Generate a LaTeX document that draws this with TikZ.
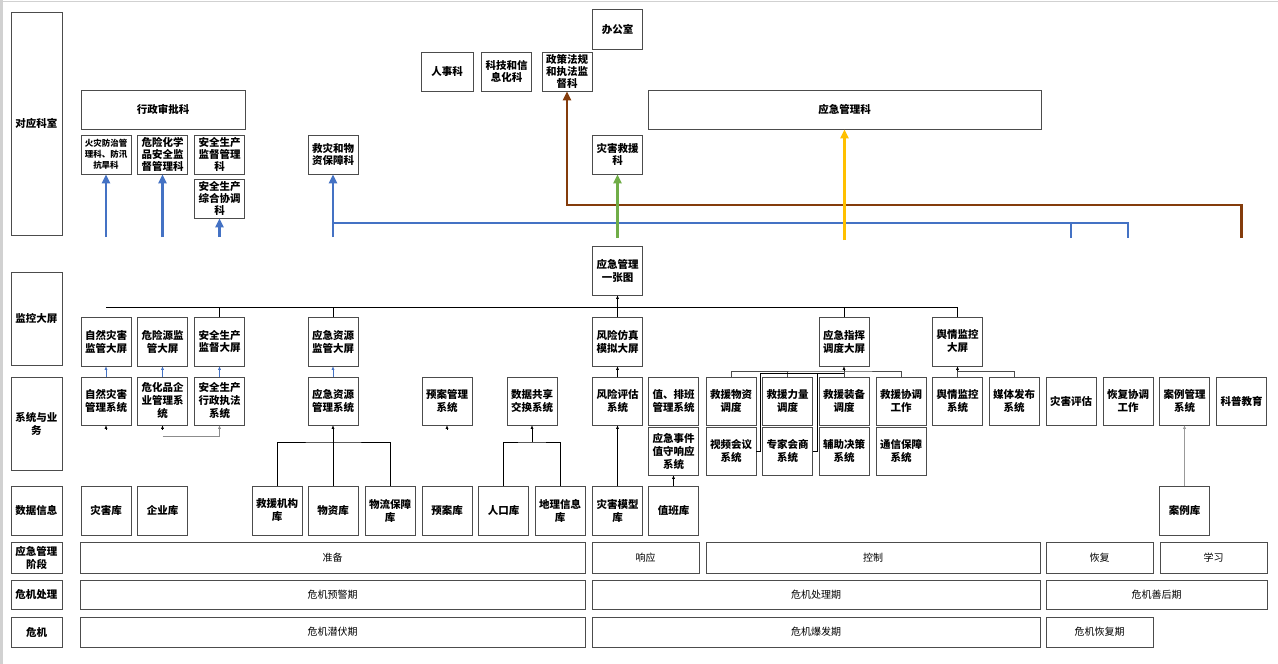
\documentclass[tikz,border=0pt]{standalone}
\usepackage{fontspec}
\setmainfont{Noto Sans CJK SC}
\usetikzlibrary{arrows.meta}
\definecolor{lan}{HTML}{4472C4}
\definecolor{lv}{HTML}{70AD47}
\definecolor{zong}{HTML}{843C0C}
\definecolor{huang}{HTML}{FFC000}
\begin{document}
\begin{tikzpicture}[x=1pt,y=-1pt,
	box/.style={draw=black!70,line width=0.6pt,minimum width=50pt,minimum height=49pt,inner sep=0pt,align=center,font=\fontsize{10.5}{13}\selectfont\bfseries},
	ke/.style={box,minimum height=39pt,font=\fontsize{10.5}{12}\selectfont\bfseries},
	lab/.style={box,minimum width=51pt},
	jd/.style={box,minimum height=30pt,font=\fontsize{10}{12}\selectfont},
	jt/.style={line width=0.6pt,-{Latex[length=3.5pt,width=3pt]}},
	lanjt/.style={draw=lan,line width=2.6pt,-{Triangle[length=9pt,width=8pt]}},
	lanxian/.style={draw=lan,line width=2.6pt},
	lvjt/.style={lanjt,draw=lv},
	zongjt/.style={lanjt,draw=zong},
	huangjt/.style={lanjt,draw=huang}]
	\useasboundingbox (0,0) rectangle (1278,664);
	\fill[white] (0,0) rectangle (1278,664);
	\fill[black!18] (0,0) rectangle (3,664);
	\draw[black!18] (0,1) -- (1278,1);
		\node[lab,minimum height=223pt] (lbA) at (36.5,123.5) {对应科室};
		\node[lab,minimum height=93pt] (lbB) at (36.5,318.5) {监控大屏};
		\node[lab,minimum height=93pt] (lbC) at (36.5,423.5) {系统与业\\务};
		\node[lab] (lbD) at (36.5,510.5) {数据信息};
		\node[lab,minimum height=31pt] (lbE) at (36.5,557.5) {应急管理\\阶段};
		\node[lab,minimum height=29pt] (lbF) at (36.5,594.5) {危机处理};
		\node[lab,minimum height=30pt] (lbG) at (36.5,632) {危机};
			\node[ke,minimum height=40pt] (bgs) at (617.5,29) {办公室};
			\node[ke,minimum width=52pt] (rsk) at (447,71.5) {人事科};
			\node[ke] (kjk) at (506.5,71.5) {科技和信\\息化科};
			\node[ke] (zck) at (567,71.5) {政策法规\\和执法监\\督科};
			\node[ke,minimum width=393pt] (yjk) at (844.5,109.5) {应急管理科};
			\node[ke] (zhk) at (617.5,154.5) {灾害救援\\科};
			\node[ke] (jzk) at (333,154.5) {救灾和物\\资保障科};
			\node[ke,minimum width=164pt] (xzk) at (163,109.5) {行政审批科};
			\node[ke,font=\fontsize{8.5}{11}\selectfont\bfseries] (hzk) at (106,154.5) {火灾防治管\\理科、防汛\\抗旱科};
			\node[ke] (wxk) at (162.5,154.5) {危险化学\\品安全监\\督管理科};
			\node[ke] (aqk) at (219.5,154.5) {安全生产\\监督管理\\科};
			\node[ke] (zgk) at (219.5,198.5) {安全生产\\综合协调\\科};
		\node[box] (yzt) at (617.5,270.5) {应急管理\\一张图};
		\node[box] (jkA) at (106,341.5) {自然灾害\\监管大屏};
		\node[box] (jkB) at (162.5,341.5) {危险源监\\管大屏};
		\node[box] (jkC) at (219.5,341.5) {安全生产\\监督大屏};
		\node[box] (jkD) at (333,341.5) {应急资源\\监管大屏};
		\node[box] (jkE) at (617.5,341.5) {风险仿真\\模拟大屏};
		\node[box] (jkF) at (844,341.5) {应急指挥\\调度大屏};
		\node[box] (jkG) at (957.5,341.5) {舆情监控\\大屏};
			\node[box,minimum height=48pt] (xtA) at (106,401) {自然灾害\\管理系统};
			\node[box,minimum height=48pt] (xtB) at (162.5,401) {危化品企\\业管理系\\统};
			\node[box,minimum height=48pt] (xtC) at (219.5,401) {安全生产\\行政执法\\系统};
			\node[box,minimum height=48pt] (xtD) at (333,401) {应急资源\\管理系统};
			\node[box,minimum height=48pt] (xtE) at (447,401) {预案管理\\系统};
			\node[box,minimum height=48pt] (xtF) at (532,401) {数据共享\\交换系统};
			\node[box,minimum height=48pt] (xtG) at (617.5,401) {风险评估\\系统};
			\node[box,minimum height=48pt] (xtH) at (673.5,401) {值、排班\\管理系统};
			\node[box,minimum height=48pt] (xtI) at (731,401) {救援物资\\调度};
			\node[box,minimum height=48pt] (xtJ) at (787.5,401) {救援力量\\调度};
			\node[box,minimum height=48pt] (xtK) at (844,401) {救援装备\\调度};
			\node[box,minimum height=48pt] (xtL) at (901,401) {救援协调\\工作};
			\node[box,minimum height=48pt] (xtM) at (957.5,401) {舆情监控\\系统};
			\node[box,minimum height=48pt] (xtN) at (1014,401) {媒体发布\\系统};
			\node[box,minimum height=48pt] (xtO) at (1071,401) {灾害评估};
			\node[box,minimum height=48pt] (xtP) at (1128,401) {恢复协调\\工作};
			\node[box,minimum height=48pt] (xtQ) at (1184.5,401) {案例管理\\系统};
			\node[box,minimum height=48pt] (xtR) at (1241.5,401) {科普教育};
			\node[box,minimum height=48pt] (xtS) at (673.5,451) {应急事件\\值守响应\\系统};
			\node[box,minimum height=48pt] (xtT) at (731,451) {视频会议\\系统};
			\node[box,minimum height=48pt] (xtU) at (787.5,451) {专家会商\\系统};
			\node[box,minimum height=48pt] (xtV) at (844,451) {辅助决策\\系统};
			\node[box,minimum height=48pt] (xtW) at (901,451) {通信保障\\系统};
		\node[box] (sjA) at (106,510.5) {灾害库};
		\node[box] (sjB) at (162.5,510.5) {企业库};
		\node[box] (sjC) at (277,510.5) {救援机构\\库};
		\node[box] (sjD) at (333,510.5) {物资库};
		\node[box] (sjE) at (390,510.5) {物流保障\\库};
		\node[box] (sjF) at (447,510.5) {预案库};
		\node[box] (sjG) at (503.5,510.5) {人口库};
		\node[box] (sjH) at (560,510.5) {地理信息\\库};
		\node[box] (sjI) at (617.5,510.5) {灾害模型\\库};
		\node[box] (sjJ) at (673.5,510.5) {值班库};
		\node[box] (sjK) at (1184.5,510.5) {案例库};
			\node[jd,minimum height=31pt,minimum width=505pt] (zb) at (332.5,557.5) {准备};
			\node[jd,minimum height=31pt,minimum width=107pt] (xy) at (645.5,557.5) {响应};
			\node[jd,minimum height=31pt,minimum width=334pt] (kz) at (873,557.5) {控制};
			\node[jd,minimum height=31pt,minimum width=107pt] (hf) at (1099.5,557.5) {恢复};
			\node[jd,minimum height=31pt,minimum width=107pt] (xx) at (1213.5,557.5) {学习};
			\node[jd,minimum height=29pt,minimum width=505pt] (yjq) at (332.5,594.5) {危机预警期};
			\node[jd,minimum height=29pt,minimum width=448pt] (clq) at (816,594.5) {危机处理期};
			\node[jd,minimum height=29pt,minimum width=221pt] (shq) at (1156.5,594.5) {危机善后期};
			\node[jd,minimum width=505pt] (qfq) at (332.5,632) {危机潜伏期};
			\node[jd,minimum width=448pt] (bfq) at (816,632) {危机爆发期};
			\node[jd,minimum width=107pt] (hfq) at (1099.5,632) {危机恢复期};
	\coordinate (dA) at (106,237);
	\coordinate (dB) at (162.5,237);
	\coordinate (dC) at (219.5,237);
	\coordinate (dD) at (333,237);
	\coordinate (dE) at (1071,238);
	\coordinate (dF) at (1128,238);
	\coordinate (dG) at (617.5,238);
	\coordinate (dH) at (1241.5,238);
	\coordinate (dI) at (844.5,240);
	\coordinate (hA) at (333,223);
	\coordinate (hB) at (567,205);
		\draw[lanjt] (dA) -- (hzk.south);
		\draw[lanjt] (dB) -- (wxk.south);
		\draw[lanjt] (dC) -- (zgk.south);
		\draw[lanjt] (dD) -- (jzk.south);
		\draw[lanxian] (hA) -| (dF);
		\draw[lanxian] (dE) -- (dE |- hA);
		\draw[zongjt] (dH) |- (hB) -- (zck.south);
		\draw[lvjt] (dG) -- (zhk.south);
		\draw[huangjt] (dI) -- (yjk.south);
	\coordinate (mL) at (106,307);
	\coordinate (mR) at (957.5,307);
		\draw[line width=0.8pt] (mL) -- (mR);
		\draw (jkC.north) -- (jkC.north |- mL);
		\draw (jkD.north) -- (jkD.north |- mL);
		\draw (jkE.north) -- (jkE.north |- mL);
		\draw (jkF.north) -- (jkF.north |- mL);
		\draw (jkG.north) -- (mR);
		\draw[jt] (yzt.south |- mL) -- (yzt.south);
		\draw[jt,draw=lan] (xtA) -- (jkA);
		\draw[jt,draw=lan] (xtB) -- (jkB);
		\draw[jt,draw=lan] (xtC) -- (jkC);
		\draw[jt,draw=lan] (xtD) -- (jkD);
		\draw[jt] (xtG) -- (jkE);
		\draw[jt] ([yshift=-4pt]xtA.south) -- (xtA.south);
		\draw[jt] ([yshift=-4pt]xtB.south) -- (xtB.south);
		\draw[jt] ([yshift=-4pt]xtE.south) -- (xtE.south);
	\coordinate (gA) at (162.5,436);
		\draw[jt,draw=black!45] (gA) -| (xtC.south);
	\coordinate (tA) at (333,442);
	\coordinate (tB) at (532,442);
		\draw (sjC.north) |- (tA) -| (sjE.north);
		\draw[jt] (sjD) -- (xtD);
		\draw (sjG.north) |- (tB) -| (sjH.north);
		\draw[jt] (tB) -- (xtF.south);
		\draw[jt] (sjI) -- (xtG);
		\draw[jt] (sjJ) -- (xtS);
		\draw[jt,draw=black!40] (sjK) -- (xtQ);
	\coordinate (zA) at (844,371);
	\coordinate (zB) at (844,373);
		\draw[jt] (zA) -- (jkF.south);
		\draw[black!70] (xtI.north) |- (zA) -| (xtL.north);
		\draw[black!70] (xtJ.north) -- (xtJ.north |- zA);
		\draw[black!70] (xtK.north) -- (zA);
		\draw (zB) -| ([xshift=4pt]xtT.east) -- (xtT.east);
		\draw (zB) -| ([xshift=4pt]xtU.east) -- (xtU.east);
	\coordinate (yA) at (957.5,371);
		\draw[jt] (yA) -- (jkG.south);
		\draw[black!70] (xtM.north) -- (yA) -| (xtN.north);
\end{tikzpicture}
\end{document}
